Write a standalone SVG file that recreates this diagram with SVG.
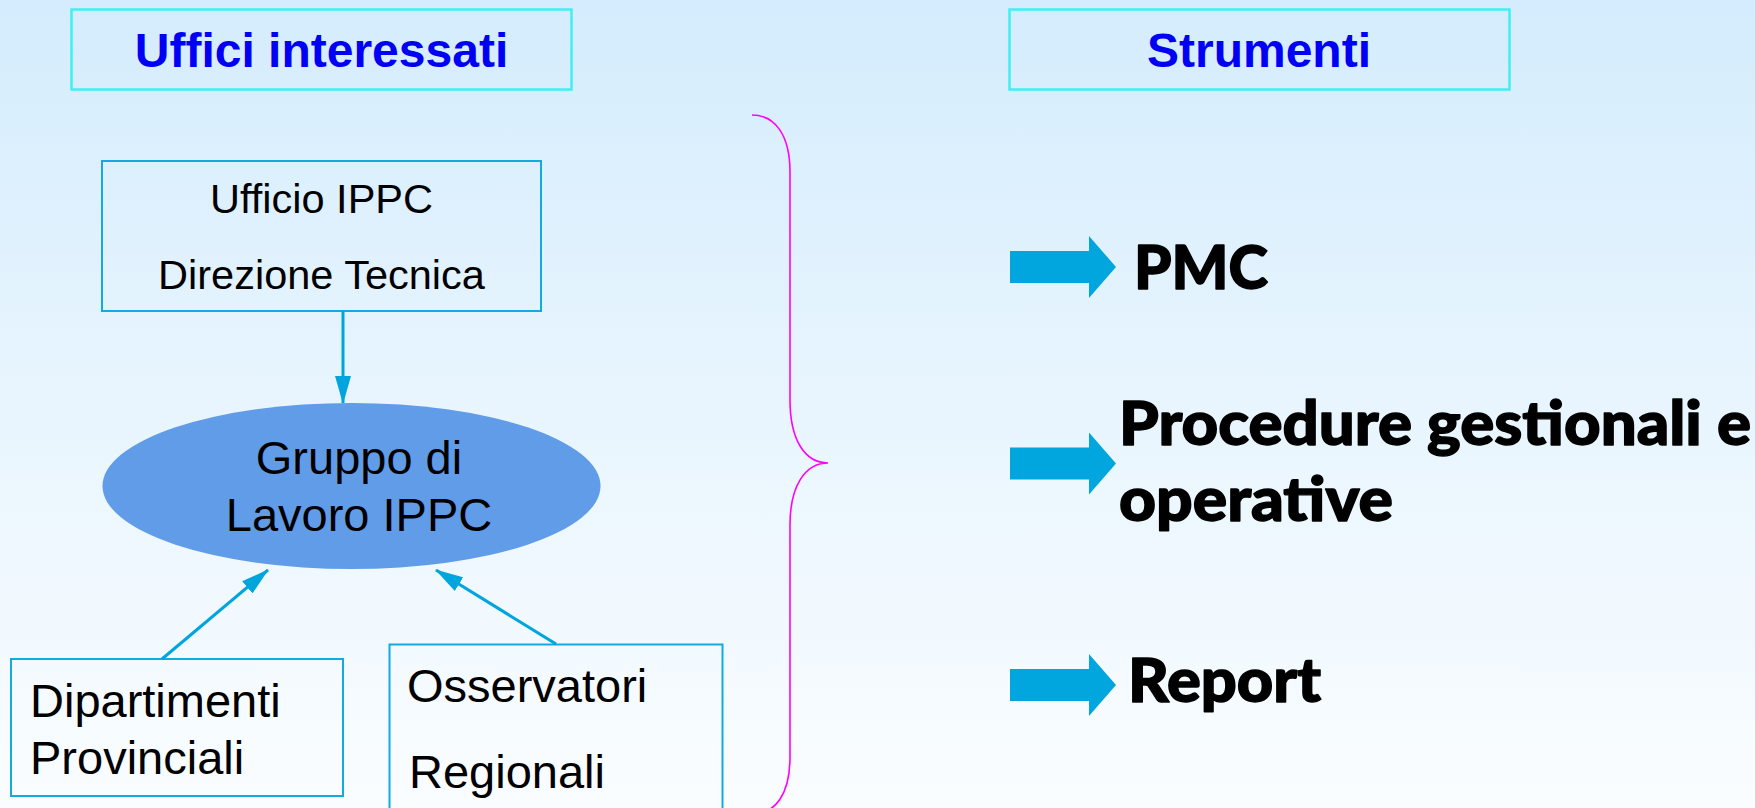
<svg xmlns="http://www.w3.org/2000/svg" width="1755" height="808" viewBox="0 0 1755 808">
  <defs>
    <linearGradient id="bg" x1="0" y1="0" x2="0" y2="1">
      <stop offset="0" stop-color="#D4ECFD"/>
      <stop offset="0.5" stop-color="#E8F5FE"/>
      <stop offset="1" stop-color="#FAFDFF"/>
    </linearGradient>
    <marker id="ah" markerUnits="userSpaceOnUse" markerWidth="28" markerHeight="16" refX="27" refY="8" orient="auto" viewBox="0 0 28 16">
      <path d="M0,0 L28,8 L0,16 Z" fill="#00A5DD"/>
    </marker>
    <path id="blockArrow" d="M1010,-16 H1089 V-31 L1116,0 L1089,31 V16 H1010 Z"/>
  </defs>
  <style>
    .hdr { fill: none; stroke: #3FF0F0; stroke-width: 2.5; }
    .hdrtxt { font-family: "Liberation Sans", Arial, sans-serif; font-weight: bold; font-size: 48px; fill: #0000F5; text-anchor: middle; }
    .box { fill: none; stroke: #12AADF; stroke-width: 2; }
    .txt { font-family: "Liberation Sans", Arial, sans-serif; font-size: 41.5px; fill: #000; }
    .big { font-size: 47px; }
    .conn { stroke: #00A5DD; stroke-width: 3; fill: none; marker-end: url(#ah); }
    .brace { stroke: #FF00FF; stroke-width: 1.6; fill: none; }
    .blk { fill: #02A6DF; }
    .tool { font-family: Lato, "Open Sans", "DejaVu Sans", sans-serif; font-weight: 900; font-size: 60px; fill: #000; stroke: #000; stroke-width: 1.4; stroke-linejoin: round; }
  </style>

  <rect width="1755" height="808" fill="url(#bg)"/>

  <g id="hdr-uffici">
    <rect class="hdr" x="71.5" y="9.5" width="500" height="80"/>
    <text class="hdrtxt" x="321.5" y="67">Uffici interessati</text>
  </g>
  <g id="hdr-strumenti">
    <rect class="hdr" x="1009.5" y="9.5" width="500" height="80"/>
    <text class="hdrtxt" x="1259" y="67">Strumenti</text>
  </g>

  <g id="ufficio-ippc">
    <rect class="box" x="102" y="161" width="439" height="150"/>
    <text class="txt" x="321.5" y="213" text-anchor="middle">Ufficio IPPC</text>
    <text class="txt" x="321.5" y="289" text-anchor="middle">Direzione Tecnica</text>
  </g>

  <g id="gruppo-lavoro">
    <ellipse cx="351.5" cy="486" rx="249" ry="83" fill="#619CE8"/>
    <text class="txt big" x="359" y="474" text-anchor="middle">Gruppo di</text>
    <text class="txt big" x="359" y="531" text-anchor="middle">Lavoro IPPC</text>
  </g>

  <g id="dipartimenti">
    <rect class="box" x="11" y="659" width="332" height="137"/>
    <text class="txt big" x="30" y="717">Dipartimenti</text>
    <text class="txt big" x="30" y="774">Provinciali</text>
  </g>

  <g id="osservatori">
    <rect class="box" x="389.5" y="644.5" width="333" height="180"/>
    <text class="txt big" x="407" y="702">Osservatori</text>
    <text class="txt big" x="409" y="788">Regionali</text>
  </g>

  <g id="connectors">
    <line class="conn" x1="343" y1="311" x2="343" y2="403"/>
    <line class="conn" x1="162" y1="659" x2="268" y2="570"/>
    <line class="conn" x1="556" y1="644" x2="436" y2="570"/>
  </g>

  <g id="brace">
    <path class="brace" d="M752,115 C775,115 790,135 790,172 L790,400 C790,440 805,463 828,463 C805,463 790,486 790,525 L790,757 C790,795 775,814 752,814"/>
  </g>

  <g id="tool-pmc">
    <use href="#blockArrow" class="blk" transform="translate(0,267)"/>
    <text class="tool" x="1134" y="289" textLength="134" lengthAdjust="spacingAndGlyphs">PMC</text>
  </g>
  <g id="tool-procedure">
    <use href="#blockArrow" class="blk" transform="translate(0,463.5)"/>
    <text class="tool" x="1119" y="445" textLength="632" lengthAdjust="spacingAndGlyphs">Procedure gestionali e</text>
    <text class="tool" x="1119" y="521" textLength="274" lengthAdjust="spacingAndGlyphs">operative</text>
  </g>
  <g id="tool-report">
    <use href="#blockArrow" class="blk" transform="translate(0,685)"/>
    <text class="tool" x="1128" y="702" textLength="193" lengthAdjust="spacingAndGlyphs">Report</text>
  </g>
</svg>
